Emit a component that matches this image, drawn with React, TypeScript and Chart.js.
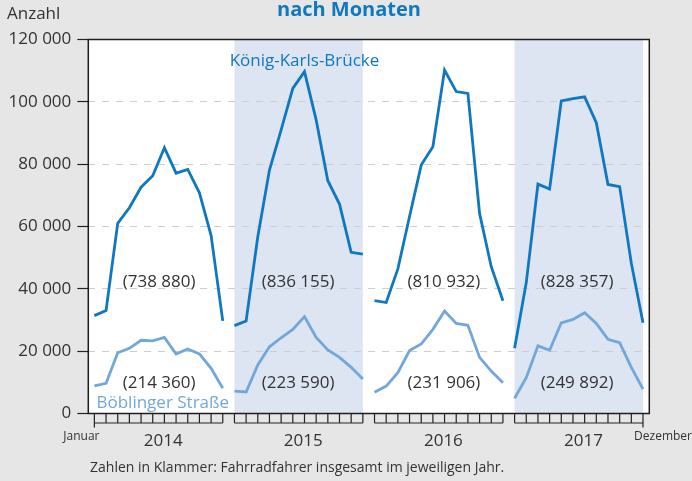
import React, { useEffect, useRef } from "react";
import { Chart, registerables } from "chart.js";

Chart.register(...registerables);

// ---- data ----
const years = ["2014", "2015", "2016", "2017"];
const monthsPerYear = 12;

const kkb2014 = [31400, 33000, 61000, 66000, 72600, 76300, 85300, 77100, 78300, 70800, 57100, 29700];
const kkb2015 = [28200, 29700, 56700, 78100, 91000, 104300, 109700, 94200, 74700, 67200, 51700, 51100];
const kkb2016 = [36200, 35600, 46400, 63200, 79700, 85600, 110200, 103300, 102700, 64200, 47100, 36200];
const kkb2017 = [20900, 42000, 73600, 72000, 100300, 101000, 101600, 93300, 73500, 72800, 48200, 29100];

const bs2014 = [8900, 9700, 19500, 20900, 23500, 23300, 24400, 19100, 20700, 19100, 14500, 8100];
const bs2015 = [7200, 6900, 15600, 21400, 24300, 27000, 31100, 24400, 20400, 18000, 14800, 11100];
const bs2016 = [6800, 8800, 13100, 20200, 22300, 27000, 32900, 28900, 28300, 18000, 13600, 9900];
const bs2017 = [4900, 11500, 21700, 20300, 29100, 30200, 32300, 28900, 23800, 22700, 14800, 7800];

const kkbTotals = ["(738 880)", "(836 155)", "(810 932)", "(828 357)"];
const bsTotals = ["(214 360)", "(223 590)", "(231 906)", "(249 892)"];

const yTickValues = [0, 20000, 40000, 60000, 80000, 100000, 120000];
const yTickLabels = ["0", "20 000", "40 000", "60 000", "80 000", "100 000", "120 000"];
const shadedYears = ["2015", "2017"];

const seriesKkbName = "König-Karls-Brücke";
const seriesBsName = "Böblinger Straße";
const titleText = "nach Monaten";
const yAxisTitle = "Anzahl";
const firstMonthLabel = "Januar";
const lastMonthLabel = "Dezember";
const footnote = "Zahlen in Klammer: Fahrradfahrer insgesamt im jeweiligen Jahr.";

// ---- layout / style ----
const FONT = "'Open Sans', 'Noto Sans', sans-serif";
const DARK = "#0f78be";
const LIGHT = "#72a7da";
const TEXT = "#333333";
const BAND = "#dde4f2";
const PAGE = "#e6e6e7";
const totalsOffset = [5.55, 5.45, 5.95, 5.35];
const yearLabelOffset = 5.9;

const kkbYears = [kkb2014, kkb2015, kkb2016, kkb2017];
const bsYears = [bs2014, bs2015, bs2016, bs2017];

const decorPlugin = {
  id: "decor",
  beforeDraw(chart: any) {
    const { ctx, chartArea: a } = chart;
    const x = chart.scales.x;
    ctx.save();
    ctx.fillStyle = PAGE;
    ctx.fillRect(0, 0, chart.width, chart.height);
    ctx.fillStyle = "#ffffff";
    ctx.fillRect(a.left, a.top, a.right - a.left, a.bottom - a.top);
    ctx.fillStyle = BAND;
    years.forEach((yr, i) => {
      if (shadedYears.includes(yr)) {
        const x0 = x.getPixelForValue(i * monthsPerYear);
        const x1 = x.getPixelForValue(i * monthsPerYear + monthsPerYear - 1);
        ctx.fillRect(x0, a.top, x1 - x0, a.bottom - a.top);
      }
    });
    ctx.restore();
  },
  afterDraw(chart: any) {
    const { ctx, chartArea: a } = chart;
    const x = chart.scales.x;
    const y = chart.scales.y;
    ctx.save();
    // plot box
    ctx.strokeStyle = "#1e1e1e";
    ctx.lineWidth = 1.5;
    ctx.strokeRect(a.left, a.top, a.right - a.left, a.bottom - a.top);

    // month ruler
    ctx.lineWidth = 1.2;
    ctx.strokeStyle = "#222";
    const yTop = a.bottom;
    const yBot = a.bottom + 9.5;
    years.forEach((_, i) => {
      const x0 = x.getPixelForValue(i * monthsPerYear);
      const x1 = x.getPixelForValue(i * monthsPerYear + monthsPerYear - 1);
      ctx.beginPath();
      ctx.moveTo(x0, yBot);
      ctx.lineTo(x1, yBot);
      ctx.stroke();
      for (let m = 0; m < monthsPerYear; m++) {
        const px = x.getPixelForValue(i * monthsPerYear + m);
        const long = (i === 0 && m === 0) || (i === years.length - 1 && m === monthsPerYear - 1);
        ctx.beginPath();
        ctx.moveTo(px, yTop);
        ctx.lineTo(px, long ? yBot + 4.5 : yBot);
        ctx.stroke();
      }
    });

    // year labels
    ctx.fillStyle = TEXT;
    ctx.textAlign = "center";
    ctx.textBaseline = "alphabetic";
    ctx.font = `17px ${FONT}`;
    years.forEach((yr, i) => {
      ctx.fillText(yr, x.getPixelForValue(i * monthsPerYear + yearLabelOffset), a.bottom + 32.5);
    });

    // Januar / Dezember
    ctx.font = `12px ${FONT}`;
    ctx.textAlign = "center";
    ctx.fillText(firstMonthLabel, x.getPixelForValue(0) - 13, a.bottom + 26.5);
    ctx.textAlign = "right";
    ctx.fillText(lastMonthLabel, chart.width, a.bottom + 26.5);

    // totals
    ctx.font = `17px ${FONT}`;
    ctx.textAlign = "center";
    ctx.fillStyle = TEXT;
    years.forEach((_, i) => {
      const px = x.getPixelForValue(i * monthsPerYear + totalsOffset[i]);
      ctx.fillText(kkbTotals[i], px, y.getPixelForValue(40600));
      ctx.fillText(bsTotals[i], px, y.getPixelForValue(8300));
    });

    // series names
    ctx.fillStyle = DARK;
    ctx.textAlign = "center";
    ctx.fillText(seriesKkbName, 304.5, a.top + 26.5);
    ctx.fillStyle = LIGHT;
    ctx.textAlign = "left";
    ctx.fillText(seriesBsName, 96.5, a.bottom - 5.5);

    // header texts
    ctx.fillStyle = TEXT;
    ctx.textAlign = "left";
    ctx.font = `17px ${FONT}`;
    ctx.fillText(yAxisTitle, 7, 19);
    ctx.fillStyle = DARK;
    ctx.textAlign = "center";
    ctx.font = `bold 20px ${FONT}`;
    ctx.fillText(titleText, 349, 16);

    // footnote
    ctx.fillStyle = TEXT;
    ctx.textAlign = "left";
    ctx.font = `14px ${FONT}`;
    ctx.fillText(footnote, 90, 472);
    ctx.restore();
  },
};

export default function App() {
  const ref = useRef<HTMLCanvasElement | null>(null);

  useEffect(() => {
    if (!ref.current) return;
    const datasets: any[] = [];
    years.forEach((_, i) => {
      datasets.push({
        label: `${seriesKkbName} ${years[i]}`,
        data: kkbYears[i].map((v, m) => ({ x: i * monthsPerYear + m, y: v })),
        borderColor: DARK,
        borderWidth: 2.8,
        pointRadius: 0,
        fill: false,
        tension: 0,
      });
      datasets.push({
        label: `${seriesBsName} ${years[i]}`,
        data: bsYears[i].map((v, m) => ({ x: i * monthsPerYear + m, y: v })),
        borderColor: LIGHT,
        borderWidth: 2.8,
        pointRadius: 0,
        fill: false,
        tension: 0,
      });
    });

    const chart = new Chart(ref.current, {
      type: "line",
      data: { datasets },
      plugins: [decorPlugin],
      options: {
        animation: false,
        responsive: false,
        maintainAspectRatio: false,
        devicePixelRatio: 1,
        layout: { padding: { top: 39.5, right: 42.7, bottom: 67.5, left: 0 } },
        plugins: { legend: { display: false }, tooltip: { enabled: false } },
        scales: {
          x: {
            type: "linear",
            display: false,
            min: -0.52,
            max: years.length * monthsPerYear - 1 + 0.54,
          },
          y: {
            type: "linear",
            min: 0,
            max: 120000,
            afterBuildTicks: (s: any) => {
              s.ticks = yTickValues.map((v) => ({ value: v }));
            },
            afterFit: (s: any) => {
              s.width = 88.3;
            },
            ticks: {
              callback: (_v: any, idx: number) => yTickLabels[idx],
              color: TEXT,
              font: { family: FONT, size: 17 },
              padding: 6,
            },
            grid: {
              color: (c: any) =>
                c.tick && (c.tick.value === 0 || c.tick.value === 120000) ? "rgba(0,0,0,0)" : "#cdcdcd",
              lineWidth: 1,
              tickColor: "#222",
              tickLength: 11,
              tickWidth: 1.2,
            },
            border: { display: false, dash: [7, 7] },
          },
        },
      } as any,
    });
    return () => chart.destroy();
  }, []);

  return (
    <div style={{ position: "absolute", left: 0, top: 0, width: 692, height: 481 }}>
      <canvas ref={ref} width={692} height={481} style={{ display: "block", width: 692, height: 481 }} />
    </div>
  );
}
